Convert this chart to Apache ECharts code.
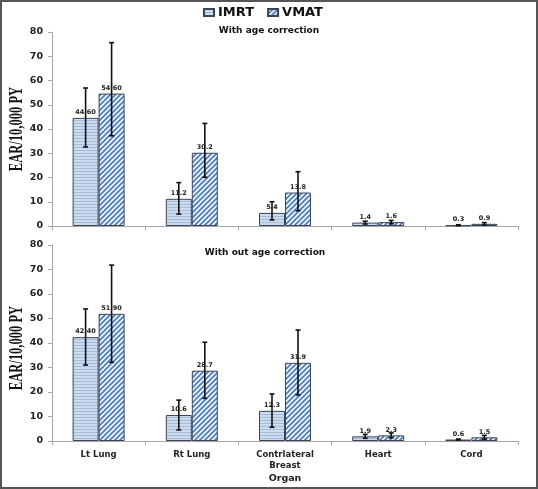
<!DOCTYPE html>
<html>
<head>
<meta charset="utf-8">
<script src="https://cdn.jsdelivr.net/npm/echarts@6/dist/echarts.min.js"></script>
<style>
html,body{margin:0;padding:0;background:#fff;}
#chart{width:538px;height:489px;}
</style>
</head>
<body>
<div id="chart"></div>
<script>
const categories = ['Lt Lung', 'Rt Lung', 'Contrlateral\nBreast', 'Heart', 'Cord'];
const yTicks = [0, 10, 20, 30, 40, 50, 60, 70, 80];

// With age correction
const imrtWith = [44.6, 11.2, 5.4, 1.4, 0.3];
const vmatWith = [54.6, 30.2, 13.8, 1.6, 0.9];
const imrtWithLabels = ['44.60', '11.2', '5.4', '1.4', '0.3'];
const vmatWithLabels = ['54.60', '30.2', '13.8', '1.6', '0.9'];
const imrtWithLow = [32.6, 4.9, 2.5, 0.8, 0.1];
const imrtWithHigh = [56.9, 17.9, 10.0, 2.0, 0.5];
const vmatWithLow = [37.2, 20.1, 6.3, 0.9, 0.4];
const vmatWithHigh = [75.6, 42.3, 22.4, 2.3, 1.4];

// Without age correction
const imrtWithout = [42.4, 10.6, 12.3, 1.9, 0.6];
const vmatWithout = [51.9, 28.7, 31.9, 2.3, 1.5];
const imrtWithoutLabels = ['42.40', '10.6', '12.3', '1.9', '0.6'];
const vmatWithoutLabels = ['51.90', '28.7', '31.9', '2.3', '1.5'];
const imrtWithoutLow = [31.0, 4.5, 5.6, 1.1, 0.4];
const imrtWithoutHigh = [53.9, 16.7, 19.2, 2.7, 0.8];
const vmatWithoutLow = [32.1, 17.4, 18.8, 1.3, 0.7];
const vmatWithoutHigh = [71.8, 40.3, 45.3, 3.3, 2.3];

// patterns
function hPattern() {
  const c = document.createElement('canvas');
  c.width = 4; c.height = 3;
  const g = c.getContext('2d');
  g.fillStyle = '#cddbee'; g.fillRect(0, 0, 4, 3);
  g.fillStyle = '#a3bcdc'; g.fillRect(0, 0, 4, 1);
  return c;
}
function dPattern() {
  const c = document.createElement('canvas');
  c.width = 5; c.height = 5;
  const g = c.getContext('2d');
  g.fillStyle = '#eef3fa'; g.fillRect(0, 0, 5, 5);
  g.strokeStyle = '#4a7bbd'; g.lineWidth = 1.6;
  g.beginPath();
  g.moveTo(-1, 6); g.lineTo(6, -1);
  g.moveTo(-1, 1); g.lineTo(1, -1);
  g.moveTo(4, 6); g.lineTo(6, 4);
  g.stroke();
  return c;
}
const imrtFill = { image: hPattern(), repeat: 'repeat' };
const vmatFill = { image: dPattern(), repeat: 'repeat' };

const BAR_W = 26;
const FONT = '"DejaVu Sans"';

function errData(low, high) {
  return low.map((l, i) => [i, l, high[i]]);
}
function errSeries(name, low, high, xi, offset) {
  return {
    type: 'custom',
    name: name + ' err',
    xAxisIndex: xi, yAxisIndex: xi,
    z: 5,
    silent: true,
    encode: { x: 0, y: [1, 2] },
    data: errData(low, high),
    renderItem: function (params, api) {
      const i = api.value(0);
      const p1 = api.coord([i, api.value(1)]);
      const p2 = api.coord([i, api.value(2)]);
      const x = p1[0] + offset;
      const cap = 2.5;
      const st = { stroke: '#111', lineWidth: 1.6 };
      return {
        type: 'group',
        children: [
          { type: 'line', shape: { x1: x, y1: p1[1], x2: x, y2: p2[1] }, style: st },
          { type: 'line', shape: { x1: x - cap, y1: p1[1], x2: x + cap, y2: p1[1] }, style: st },
          { type: 'line', shape: { x1: x - cap, y1: p2[1], x2: x + cap, y2: p2[1] }, style: st }
        ]
      };
    }
  };
}
function barSeries(name, data, labels, xi, fill) {
  return {
    type: 'bar',
    name: name,
    xAxisIndex: xi, yAxisIndex: xi,
    data: data,
    barWidth: BAR_W,
    barGap: '0%',
    itemStyle: { color: fill, borderColor: '#3a4658', borderWidth: 1 },
    label: {
      show: true, position: 'top', distance: 2,
      fontFamily: FONT, fontWeight: 'bold', fontSize: 6.5, color: '#222',
      formatter: p => labels[p.dataIndex]
    }
  };
}
function yAxis(gi) {
  return {
    type: 'value', gridIndex: gi, min: 0, max: 80, interval: 10,
    splitLine: { show: false },
    axisLine: { show: true, lineStyle: { color: '#a6a6a6', width: 1 } },
    axisTick: { show: true, length: 4, lineStyle: { color: '#a6a6a6' } },
    axisLabel: {
      fontFamily: FONT, fontWeight: 'bold', fontSize: 9.5, color: '#222', margin: 9,
      formatter: v => yTicks.includes(v) ? String(v) : ''
    }
  };
}
function xAxis(gi, showLabels) {
  const ax = {
    type: 'category', gridIndex: gi, data: categories,
    axisLine: { show: true, lineStyle: { color: '#a6a6a6', width: 1 } },
    axisTick: { show: true, length: 4, lineStyle: { color: '#a6a6a6' } },
    axisLabel: {
      show: showLabels, fontFamily: FONT, fontWeight: 'bold', fontSize: 8.5,
      color: '#222', margin: 8, lineHeight: 11, interval: 0
    }
  };
  if (showLabels) {
    ax.name = 'Organ';
    ax.nameLocation = 'middle';
    ax.nameGap = 33;
    ax.nameTextStyle = { fontFamily: FONT, fontWeight: 'bold', fontSize: 9.5, color: '#222' };
  }
  return ax;
}

const chart = echarts.init(document.getElementById('chart'), null, { renderer: 'canvas' });
chart.setOption({
  animation: false,
  backgroundColor: '#fff',
  title: [
    { text: 'With age correction', left: 264, top: 21, textAlign: 'center',
      textStyle: { fontFamily: FONT, fontWeight: 'bold', fontSize: 9, color: '#111' } },
    { text: 'With out age correction', left: 260, top: 243, textAlign: 'center',
      textStyle: { fontFamily: FONT, fontWeight: 'bold', fontSize: 9, color: '#111' } }
  ],
  legend: {
    top: 6, left: 203, padding: 0,
    data: ['IMRT', 'VMAT'],
    itemWidth: 10, itemHeight: 7, itemGap: 13,
    icon: 'rect',
    textStyle: { fontFamily: FONT, fontWeight: 'bold', fontSize: 13, color: '#111', padding: [0, 0, 0, -1] }
  },
  grid: [
    { left: 52, right: 20, top: 32, height: 194 },
    { left: 52, right: 20, top: 245, height: 196 }
  ],
  xAxis: [xAxis(0, false), xAxis(1, true)],
  yAxis: [yAxis(0), yAxis(1)],
  graphic: [
    { type: 'rect', shape: { x: 1, y: 1, width: 536, height: 487 },
      style: { fill: 'none', stroke: '#555', lineWidth: 2 }, silent: true, z: 100 },
    { type: 'text', x: 17, y: 129, rotation: Math.PI / 2, scaleX: 0.66,
      style: { text: 'EAR/10,000 PY', font: 'bold 19px "Liberation Serif"', align: 'center', verticalAlign: 'middle', fill: '#111' } },
    { type: 'text', x: 17, y: 348, rotation: Math.PI / 2, scaleX: 0.66,
      style: { text: 'EAR/10,000 PY', font: 'bold 19px "Liberation Serif"', align: 'center', verticalAlign: 'middle', fill: '#111' } }
  ],
  series: [
    barSeries('IMRT', imrtWith, imrtWithLabels, 0, imrtFill),
    barSeries('VMAT', vmatWith, vmatWithLabels, 0, vmatFill),
    barSeries('IMRT', imrtWithout, imrtWithoutLabels, 1, imrtFill),
    barSeries('VMAT', vmatWithout, vmatWithoutLabels, 1, vmatFill),
    errSeries('IMRT', imrtWithLow, imrtWithHigh, 0, -BAR_W / 2),
    errSeries('VMAT', vmatWithLow, vmatWithHigh, 0, BAR_W / 2),
    errSeries('IMRT', imrtWithoutLow, imrtWithoutHigh, 1, -BAR_W / 2),
    errSeries('VMAT', vmatWithoutLow, vmatWithoutHigh, 1, BAR_W / 2)
  ]
});
</script>
</body>
</html>
